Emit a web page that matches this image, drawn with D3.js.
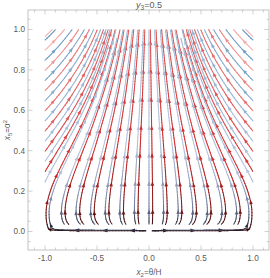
<!DOCTYPE html>
<html><head><meta charset="utf-8">
<script src="https://cdn.jsdelivr.net/npm/d3@7/dist/d3.min.js"></script>
<style>html,body{margin:0;padding:0;background:#fff;overflow:hidden}</style>
</head><body>
<svg id="chart" width="270" height="278"></svg>
<script>
// ---------------- data ----------------
const xTickValues = [-1.0, -0.5, 0.0, 0.5, 1.0];
const xTickLabels = ["-1.0", "-0.5", "0.0", "0.5", "1.0"];
const yTickValues = [0.0, 0.2, 0.4, 0.6, 0.8, 1.0];
const yTickLabels = ["0.0", "0.2", "0.4", "0.6", "0.8", "1.0"];
const plotXRange = [-1.1635, 1.1538];
const plotYRange = [-0.0916, 1.0965];
const fieldXRange = [-1, 1];
const fieldYRange = [0, 1];
const hookFloor = 0.035;
// vector field samples (right half, x >= 0), mirrored for x < 0
const gridX = [0, 0.25, 0.5, 0.75, 1.0];
const gridY = [0, 0.01, 0.02, 0.05, 0.1, 0.2, 0.4, 0.6, 0.8, 1.0];
const fieldU = [
  [0, 0.10, 0.15, 0.12, 0.00],
  [0, 0.10, 0.15, 0.12, 0.00],
  [0, 0.10, 0.15, 0.13, 0.02],
  [0, 0.07, 0.11, 0.12, 0.04],
  [0, 0.00, 0.00, 0.00, -0.02],
  [0, -0.075, -0.175, -0.25, -0.335],
  [0, -0.20, -0.44, -0.76, -1.12],
  [0, -0.33, -0.715, -1.32, -1.98],
  [0, -0.46, -1.05, -1.89, -2.80],
  [0, -0.61, -1.36, -2.47, -3.57]
];
const fieldV = [
  [0, 0, 0, 0, 0],
  [0.0005, 0.0005, 0.0005, 0.0006, 0.004],
  [0.015, 0.015, 0.015, 0.015, 0.04],
  [0.1, 0.1, 0.1, 0.1, 0.14],
  [0.3, 0.3, 0.3, 0.3, 0.3],
  [0.5, 0.5, 0.5, 0.5, 0.5],
  [0.8, 0.8, 0.8, 0.8, 0.8],
  [1.1, 1.1, 1.1, 1.1, 1.1],
  [1.4, 1.4, 1.4, 1.4, 1.4],
  [1.7, 1.7, 1.7, 1.7, 1.7]
];
// streamline seed points (right half, mirrored)
const redSeeds = [
  [0.06, 0.003],
  [0.035, 0.12], [0.105, 0.12], [0.175, 0.12], [0.245, 0.12], [0.315, 0.12], [0.385, 0.12],
  [0.455, 0.12], [0.525, 0.12], [0.595, 0.12], [0.665, 0.12], [0.735, 0.12], [0.805, 0.12],
  [0.875, 0.12], [0.945, 0.12],
  [0.995, 0.2], [0.995, 0.3], [0.995, 0.4], [0.995, 0.5], [0.995, 0.6], [0.995, 0.7],
  [0.995, 0.8], [0.995, 0.9],
  [0.05, 0.995], [0.14, 0.995], [0.23, 0.995], [0.32, 0.995], [0.41, 0.995], [0.5, 0.995],
  [0.6, 0.995], [0.7, 0.995], [0.82, 0.995], [0.94, 0.995]
];
const blueSeeds = [
  [0.06, 0.005],
  [0.0, 0.5],
  [0.07, 0.12], [0.14, 0.12], [0.21, 0.12], [0.28, 0.12], [0.35, 0.12], [0.42, 0.12],
  [0.49, 0.12], [0.56, 0.12], [0.63, 0.12], [0.70, 0.12], [0.77, 0.12], [0.84, 0.12],
  [0.91, 0.12], [0.98, 0.12],
  [0.995, 0.15], [0.995, 0.25], [0.995, 0.35], [0.995, 0.45], [0.995, 0.55], [0.995, 0.65],
  [0.995, 0.75], [0.995, 0.85], [0.995, 0.95],
  [0.09, 0.995], [0.18, 0.995], [0.27, 0.995], [0.36, 0.995], [0.45, 0.995], [0.55, 0.995],
  [0.65, 0.995], [0.76, 0.995], [0.88, 0.995]
];
const speedStops = [0.0, 0.15, 0.4, 0.9, 1.8, 3.5];
const redColors = ["#2a0606", "#4d1010", "#8a1c1c", "#d42a2a", "#e25c5c", "#f3b0b0"];
const blueColors = ["#1d2130", "#3a4258", "#7a86a6", "#b7c4de", "#a0bbd6", "#5e95c0"];

// ---------------- setup ----------------
const svg = d3.select("#chart");
const x = d3.scaleLinear().domain(plotXRange).range([28, 269]);
const y = d3.scaleLinear().domain(plotYRange).range([250, 10]);
const kx = Math.abs(x(1) - x(0)), ky = Math.abs(y(1) - y(0));
const redScale = d3.scaleLinear().domain(speedStops).range(redColors).clamp(true);
const blueScale = d3.scaleLinear().domain(speedStops).range(blueColors).clamp(true);

function interp(grid, ax, yy) {
  let i = d3.bisectRight(gridX, ax) - 1; i = Math.max(0, Math.min(gridX.length - 2, i));
  let j = d3.bisectRight(gridY, yy) - 1; j = Math.max(0, Math.min(gridY.length - 2, j));
  const tx = Math.max(0, Math.min(1, (ax - gridX[i]) / (gridX[i + 1] - gridX[i])));
  const ty = Math.max(0, Math.min(1, (yy - gridY[j]) / (gridY[j + 1] - gridY[j])));
  const a = grid[j][i], b = grid[j][i + 1], c = grid[j + 1][i], d = grid[j + 1][i + 1];
  return (a * (1 - tx) + b * tx) * (1 - ty) + (c * (1 - tx) + d * tx) * ty;
}
function field(px, py) {
  const s = px < 0 ? -1 : 1, ax = Math.abs(px);
  return [s * interp(fieldU, ax, py), interp(fieldV, ax, py)];
}
function dirAt(p) {
  const f = field(p[0], p[1]);
  const dx = f[0] * kx, dy = f[1] * ky, m = Math.hypot(dx, dy);
  if (Math.hypot(f[0], f[1]) < 0.012) return null;
  return [dx / m / kx, dy / m / ky];
}
const H = 0.6;
function step(p, dir) {
  const d1 = dirAt(p); if (!d1) return null;
  const mid = [p[0] + dir * 0.5 * H * d1[0], p[1] + dir * 0.5 * H * d1[1]];
  const d2 = dirAt(mid); if (!d2) return null;
  return [p[0] + dir * H * d2[0], p[1] + dir * H * d2[1]];
}
function inField(p, floor) {
  return p[0] >= fieldXRange[0] && p[0] <= fieldXRange[1] && p[1] >= floor && p[1] <= fieldYRange[1];
}
const CELL = 4;
function key(i, j) { return i + "," + j; }
function addPts(store, pts) {
  pts.forEach(p => {
    const X = x(p[0]), Y = y(p[1]);
    const k = key(Math.floor(X / CELL), Math.floor(Y / CELL));
    if (!store.has(k)) store.set(k, []);
    store.get(k).push([X, Y]);
  });
}
function near(store, p, dist) {
  const X = x(p[0]), Y = y(p[1]);
  const ci = Math.floor(X / CELL), cj = Math.floor(Y / CELL), r = Math.ceil(dist / CELL);
  for (let i = ci - r; i <= ci + r; i++) for (let j = cj - r; j <= cj + r; j++) {
    const arr = store.get(key(i, j)); if (!arr) continue;
    for (const q of arr) if (Math.hypot(q[0] - X, q[1] - Y) < dist) return true;
  }
  return false;
}
const DSEP = 8, DTEST = 3.2;
function integrate(seed, dir, store) {
  const out = []; let p = seed;
  const floor = seed[1] < hookFloor ? fieldYRange[0] : hookFloor;
  for (let n = 0; n < 3000; n++) {
    const q = step(p, dir);
    if (!q || !inField(q, floor) || near(store, q, DTEST)) break;
    out.push(q); p = q;
  }
  return out;
}
function traceAll(seeds) {
  const store = new Map(), lines = [];
  const all = [];
  seeds.forEach(s => { all.push(s); if (s[0] !== 0) all.push([-s[0], s[1]]); });
  all.forEach(s => {
    if (near(store, s, DSEP)) return;
    const f = integrate(s, 1, store), b = integrate(s, -1, store);
    const pts = b.reverse().concat([s], f);
    if (pts.length < 12) return;
    addPts(store, pts);
    lines.push(pts);
  });
  return lines;
}

// ---------------- frame & axes ----------------
const frameColor = "#b4b4b4", textColor = "#5a5a5a";
const xMinor = d3.range(-11, 12).map(v => v / 10);
const yMinor = d3.range(-1, 22).map(v => v / 20).filter(v => v >= plotYRange[0] && v <= plotYRange[1]);
const gAx = svg.append("g");
function tickSet(vals, len, isX) {
  vals.forEach(v => {
    if (isX) {
      gAx.append("line").attr("x1", x(v)).attr("x2", x(v)).attr("y1", 250).attr("y2", 250 - len).attr("stroke", frameColor).attr("stroke-width", 0.6);
      gAx.append("line").attr("x1", x(v)).attr("x2", x(v)).attr("y1", 10).attr("y2", 10 + len).attr("stroke", frameColor).attr("stroke-width", 0.6);
    } else {
      gAx.append("line").attr("y1", y(v)).attr("y2", y(v)).attr("x1", 28).attr("x2", 28 + len).attr("stroke", frameColor).attr("stroke-width", 0.6);
      gAx.append("line").attr("y1", y(v)).attr("y2", y(v)).attr("x1", 269).attr("x2", 269 - len).attr("stroke", frameColor).attr("stroke-width", 0.6);
    }
  });
}
tickSet(xMinor.filter(v => Math.abs(v * 2 - Math.round(v * 2)) > 1e-6), 2.5, true);
tickSet(xTickValues, 4.5, true);
tickSet(yMinor.filter(v => Math.abs(v * 5 - Math.round(v * 5)) > 1e-6), 2.5, false);
tickSet(yTickValues, 4.5, false);

// ---------------- streamlines ----------------
const gStream = svg.append("g");
svg.append("clipPath").attr("id", "fieldclip").append("rect")
  .attr("x", x(-1) - 1).attr("y", y(1) - 1).attr("width", x(1) - x(-1) + 2).attr("height", y(0) - y(1) + 2);
gStream.attr("clip-path", "url(#fieldclip)");
const lineGen = d3.line().x(d => x(d[0])).y(d => y(d[1]));
function speedAt(p) { const f = field(p[0], p[1]); return Math.hypot(f[0], f[1]); }
function drawLines(lines, scale) {
  const g = gStream.append("g").attr("fill", "none").attr("stroke-width", 1.05).attr("stroke-linecap", "round");
  lines.forEach(pts => {
    const CH = 5;
    for (let i = 0; i < pts.length - 1; i += CH) {
      const seg = pts.slice(i, Math.min(pts.length, i + CH + 1));
      const mid = seg[Math.floor(seg.length / 2)];
      g.append("path").attr("d", lineGen(seg)).attr("stroke", scale(speedAt(mid)));
    }
    let acc = 0, next = 12;
    for (let i = 1; i < pts.length; i++) {
      const X0 = x(pts[i - 1][0]), Y0 = y(pts[i - 1][1]), X1 = x(pts[i][0]), Y1 = y(pts[i][1]);
      acc += Math.hypot(X1 - X0, Y1 - Y0);
      if (acc >= next && i < pts.length - 4) {
        next += 28;
        const a = Math.atan2(Y1 - Y0, X1 - X0) * 180 / Math.PI;
        g.append("path").attr("d", "M2.6,0L-1.8,-1.8L-1.8,1.8Z")
          .attr("transform", `translate(${X1},${Y1}) rotate(${a})`)
          .attr("fill", scale(speedAt(pts[i]))).attr("stroke", "none");
      }
    }
  });
}
drawLines(traceAll(redSeeds), redScale);
drawLines(traceAll(blueSeeds), blueScale);

// frame
svg.append("rect").attr("x", 28).attr("y", 10).attr("width", 241).attr("height", 240)
  .attr("fill", "none").attr("stroke", frameColor).attr("stroke-width", 0.8);

// tick labels
const fontFam = "'Liberation Sans', Arial, sans-serif";
svg.append("g").selectAll("text").data(xTickValues).join("text")
  .attr("x", d => x(d)).attr("y", 261).attr("text-anchor", "middle")
  .attr("font-family", fontFam).attr("font-size", 8.2).attr("fill", textColor)
  .text((d, i) => xTickLabels[i]);
svg.append("g").selectAll("text").data(yTickValues).join("text")
  .attr("x", 25).attr("y", d => y(d) + 3).attr("text-anchor", "end")
  .attr("font-family", fontFam).attr("font-size", 8.2).attr("fill", textColor)
  .text((d, i) => yTickLabels[i]);

// title
const t = svg.append("text").attr("x", 149).attr("y", 8).attr("text-anchor", "middle")
  .attr("font-family", fontFam).attr("font-size", 9).attr("fill", textColor);
t.append("tspan").attr("font-style", "italic").text("y");
t.append("tspan").attr("font-size", 6.5).attr("dy", 2).text("3");
t.append("tspan").attr("dy", -2).text("=0.5");

// x label
const xl = svg.append("text").attr("x", 149).attr("y", 275).attr("text-anchor", "middle")
  .attr("font-family", fontFam).attr("font-size", 8.2).attr("fill", textColor);
xl.append("tspan").attr("font-style", "italic").text("x");
xl.append("tspan").attr("font-size", 6).attr("dy", 2).text("2");
xl.append("tspan").attr("dy", -2).text("=θ/H");

// y label
const yl = svg.append("text").attr("transform", "translate(10,130) rotate(-90)").attr("text-anchor", "middle")
  .attr("font-family", fontFam).attr("font-size", 8.2).attr("fill", textColor);
yl.append("tspan").attr("font-style", "italic").text("x");
yl.append("tspan").attr("font-size", 6).attr("dy", 2).text("5");
yl.append("tspan").attr("dy", -2).text("=α");
yl.append("tspan").attr("font-size", 6).attr("dy", -3).text("2");
</script>
</body></html>
